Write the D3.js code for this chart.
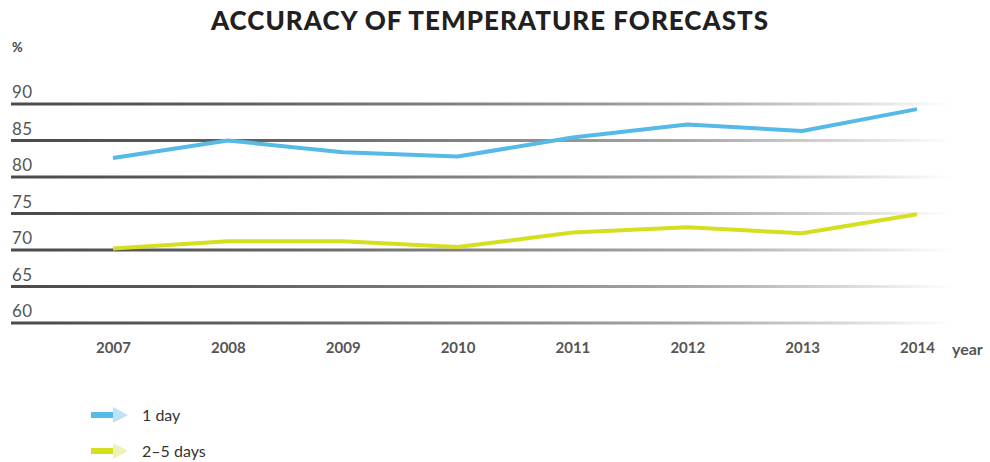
<!DOCTYPE html>
<html>
<head>
<meta charset="utf-8">
<script src="https://cdn.jsdelivr.net/npm/d3@7"></script>
<style>
  html, body { margin: 0; padding: 0; background: #fff; }
  svg { display: block; font-family: Lato, "Open Sans", sans-serif; }
</style>
</head>
<body>
<svg id="chart" width="990" height="462"></svg>
<script>
const title = "ACCURACY OF TEMPERATURE FORECASTS";
const years = ["2007", "2008", "2009", "2010", "2011", "2012", "2013", "2014"];
const oneDay = [82.6, 85.0, 83.4, 82.8, 85.4, 87.2, 86.3, 89.3];
const twoFiveDays = [70.2, 71.2, 71.2, 70.4, 72.4, 73.1, 72.3, 74.9];
const yTicks = [60, 65, 70, 75, 80, 85, 90];
const seriesNames = ["1 day", "2–5 days"];
const seriesColors = ["#56b9e8", "#d3df1f"];
const seriesLight = ["#bfe3f6", "#eef2b4"];
const yUnit = "%";
const xUnit = "year";

const svg = d3.select("#chart");

const x = d3.scalePoint().domain(years).range([113, 917]);
const y = d3.scaleLinear().domain([60, 90]).range([323, 104]);

// gradient for gridlines
const defs = svg.append("defs");
const grad = defs.append("linearGradient")
  .attr("id", "gridGrad")
  .attr("gradientUnits", "userSpaceOnUse")
  .attr("x1", 11).attr("x2", 952).attr("y1", 0).attr("y2", 0);
[[0, "#4a4a4a"], [0.25, "#606060"], [0.5, "#858585"], [0.72, "#a8a8a8"], [0.88, "#d6d6d6"], [1, "#ffffff"]]
  .forEach(([o, c]) => grad.append("stop").attr("offset", o).attr("stop-color", c));

// title
svg.append("text")
  .attr("x", 490).attr("y", 30)
  .attr("text-anchor", "middle")
  .attr("font-size", 26).attr("font-weight", 900)
  .attr("letter-spacing", 1)
  .attr("fill", "#231f20")
  .text(title);

// y unit
svg.append("text")
  .attr("x", 12).attr("y", 52)
  .attr("font-size", 13).attr("font-weight", 700)
  .attr("fill", "#444")
  .text(yUnit);

// gridlines
const grid = svg.append("g");
grid.selectAll("line").data(yTicks).join("line")
  .attr("x1", 11).attr("x2", 952)
  .attr("y1", d => y(d)).attr("y2", d => y(d))
  .attr("stroke", "url(#gridGrad)")
  .attr("stroke-width", 3);

// y labels
svg.append("g").selectAll("text").data(yTicks).join("text")
  .attr("x", 12).attr("y", d => y(d) - 6)
  .attr("font-size", 17)
  .attr("letter-spacing", 0.5)
  .attr("fill", "#555")
  .text(d => d);

// x axis
const xAxis = d3.axisBottom(x).tickSize(0).tickPadding(0);
const gx = svg.append("g").attr("transform", "translate(0,342)").call(xAxis);
gx.select(".domain").remove();
gx.selectAll("text")
  .attr("font-size", 15).attr("font-weight", 700)
  .attr("font-family", "Lato, sans-serif")
  .attr("fill", "#555");

svg.append("text")
  .attr("x", 952).attr("y", 355)
  .attr("font-size", 16).attr("font-weight", 700)
  .attr("fill", "#555")
  .text(xUnit);

// lines
const lineGen = d3.line().x((d, i) => x(years[i])).y(d => y(d));
[oneDay, twoFiveDays].forEach((s, k) => {
  svg.append("path")
    .datum(s)
    .attr("d", lineGen)
    .attr("fill", "none")
    .attr("stroke", seriesColors[k])
    .attr("stroke-width", 4)
    .attr("stroke-linejoin", "round");
});

// legend
const legend = svg.append("g").attr("transform", "translate(91,415)");
seriesNames.forEach((name, k) => {
  const g = legend.append("g").attr("transform", `translate(0,${k * 36})`);
  g.append("rect").attr("x", 0).attr("y", -3).attr("width", 22).attr("height", 6)
    .attr("fill", seriesColors[k]);
  g.append("path").attr("d", "M22,-8 L37,0 L22,8 Z").attr("fill", seriesLight[k]);
  g.append("text").attr("x", 51).attr("y", 6)
    .attr("font-size", 16).attr("fill", "#333")
    .text(name);
});
</script>
</body>
</html>
